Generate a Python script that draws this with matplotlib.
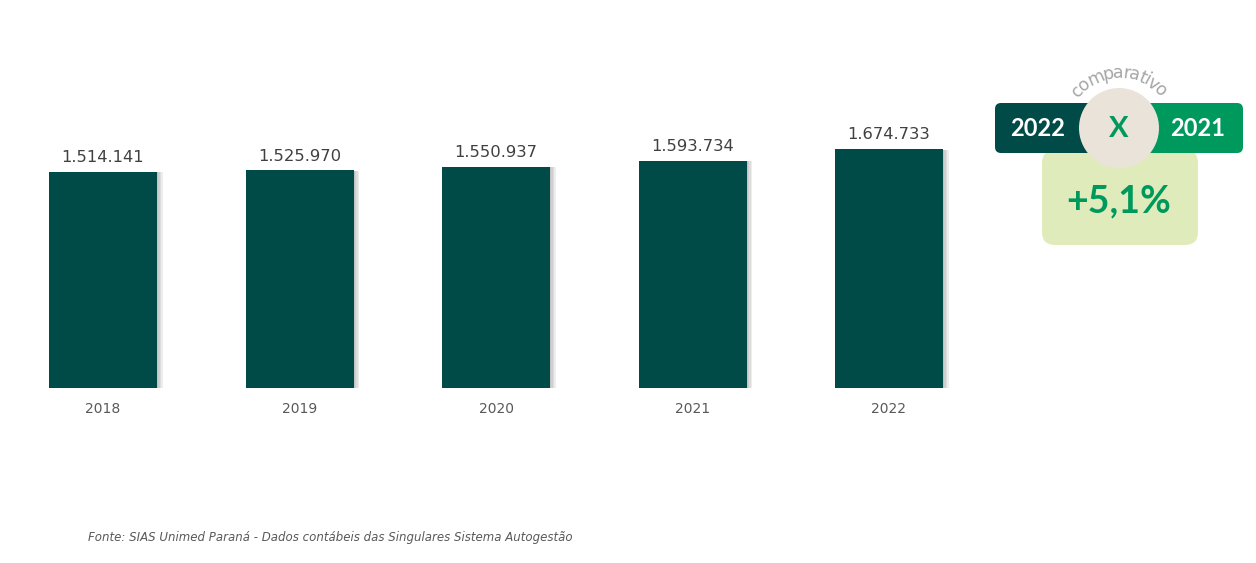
import matplotlib.pyplot as plt
import numpy as np
from matplotlib.patches import FancyBboxPatch, Circle
import matplotlib.patheffects as pe
from matplotlib.textpath import TextPath
from matplotlib.font_manager import FontProperties

# dados
anos = ['2018', '2019', '2020', '2021', '2022']
valores = [1514141, 1525970, 1550937, 1593734, 1674733]
rotulos = ['1.514.141', '1.525.970', '1.550.937', '1.593.734', '1.674.733']
comp_ano_a = '2022'
comp_ano_b = '2021'
variacao = '+5,1%'
fonte = 'Fonte: SIAS Unimed Paraná - Dados contábeis das Singulares Sistema Autogestão'

verde_escuro = '#004B47'
verde = '#00995D'
verde_claro = '#E0EBBC'
bege = '#EAE3DA'

W, H = 1256, 563
fig = plt.figure(figsize=(W / 100, H / 100), dpi=100)
fig.set_facecolor('white')

# eixo principal (barras)
ax = fig.add_axes([0, 0, 1, 1])
k = 216 / valores[0]          # px por unidade
base = 175                    # px da base a partir de baixo
passo = 196.5
ax.set_xlim(-103 / passo, (W - 103) / passo)
ax.set_ylim(-base / k, (H - base) / k)
ax.axis('off')

x = np.arange(len(anos))
barras = ax.bar(x, valores, width=108 / passo, color=verde_escuro, zorder=2)
sombra = [pe.SimplePatchShadow(offset=(o, -0.3), shadow_rgbFace='#777777', alpha=0.13)
          for o in (1, 2, 3, 4)]
for b in barras:
    b.set_path_effects(sombra + [pe.Normal()])

for xi, v, r in zip(x, valores, rotulos):
    ax.annotate(r, (xi, v), xytext=(0, 7), textcoords='offset points',
                ha='center', va='baseline', fontsize=11.8, color='#404040',
                family='DejaVu Sans')
for xi, a in zip(x, anos):
    ax.annotate(a, (xi, 0), xytext=(0, -15), textcoords='offset points',
                ha='center', va='center', fontsize=10, color='#595959',
                family='DejaVu Sans')

# eixo decorativo em pixels
dx = fig.add_axes([0, 0, 1, 1], zorder=3)
dx.set_xlim(0, W)
dx.set_ylim(H, 0)
dx.axis('off')
dx.patch.set_alpha(0)

dx.add_patch(FancyBboxPatch((1042, 150), 156, 95, boxstyle='round,pad=0,rounding_size=13',
                            fc=verde_claro, ec='none', zorder=1))
dx.add_patch(FancyBboxPatch((995, 103), 130, 50, boxstyle='round,pad=0,rounding_size=6',
                            fc=verde_escuro, ec='none', zorder=2))
dx.add_patch(FancyBboxPatch((1115, 103), 128, 50, boxstyle='round,pad=0,rounding_size=6',
                            fc=verde, ec='none', zorder=2))
dx.add_patch(Circle((1119, 128), 40, fc=bege, ec='none', zorder=3))

dx.text(1038, 129, comp_ano_a, ha='center', va='center', color='white',
        fontsize=17, fontweight='bold', family='Lato', zorder=4)
dx.text(1198, 129, comp_ano_b, ha='center', va='center', color='white',
        fontsize=17, fontweight='bold', family='Lato', zorder=4)
dx.text(1119, 129, 'X', ha='center', va='center', color=verde,
        fontsize=21, fontweight='bold', family='Lato', zorder=4)
dx.text(1119, 201, variacao, ha='center', va='center', color=verde,
        fontsize=27, fontweight='bold', family='Lato', zorder=4)

# "comparativo" em arco, espaçado pela largura de cada letra
palavra = 'comparativo'
tam = 12.5
fp = FontProperties(family='DejaVu Sans', size=tam)
larg = np.array([TextPath((0, 0), ch, prop=fp).get_extents().width if ch.strip() else tam * 0.3
                 for ch in palavra])
larg = larg + tam * 0.04               # pequeno espaçamento
larg_px = larg * 100 / 72
cx, cy, raio = 1119, 130, 52
centros = np.cumsum(larg_px) - larg_px / 2
total = larg_px.sum()
angs = 90 + np.rad2deg((total / 2 - centros) / raio)
for ch, a in zip(palavra, angs):
    t = np.deg2rad(a)
    dx.text(cx + raio * np.cos(t), cy - raio * np.sin(t), ch, rotation=a - 90,
            ha='center', va='baseline', rotation_mode='anchor',
            fontsize=tam, color='#A6A6A6', family='DejaVu Sans')

fig.text(88 / W, 1 - 538 / H, fonte, ha='left', va='center', fontsize=8.5,
         style='italic', color='#595959', family='DejaVu Sans')

fig.savefig('out.png', dpi=100, facecolor='white')
